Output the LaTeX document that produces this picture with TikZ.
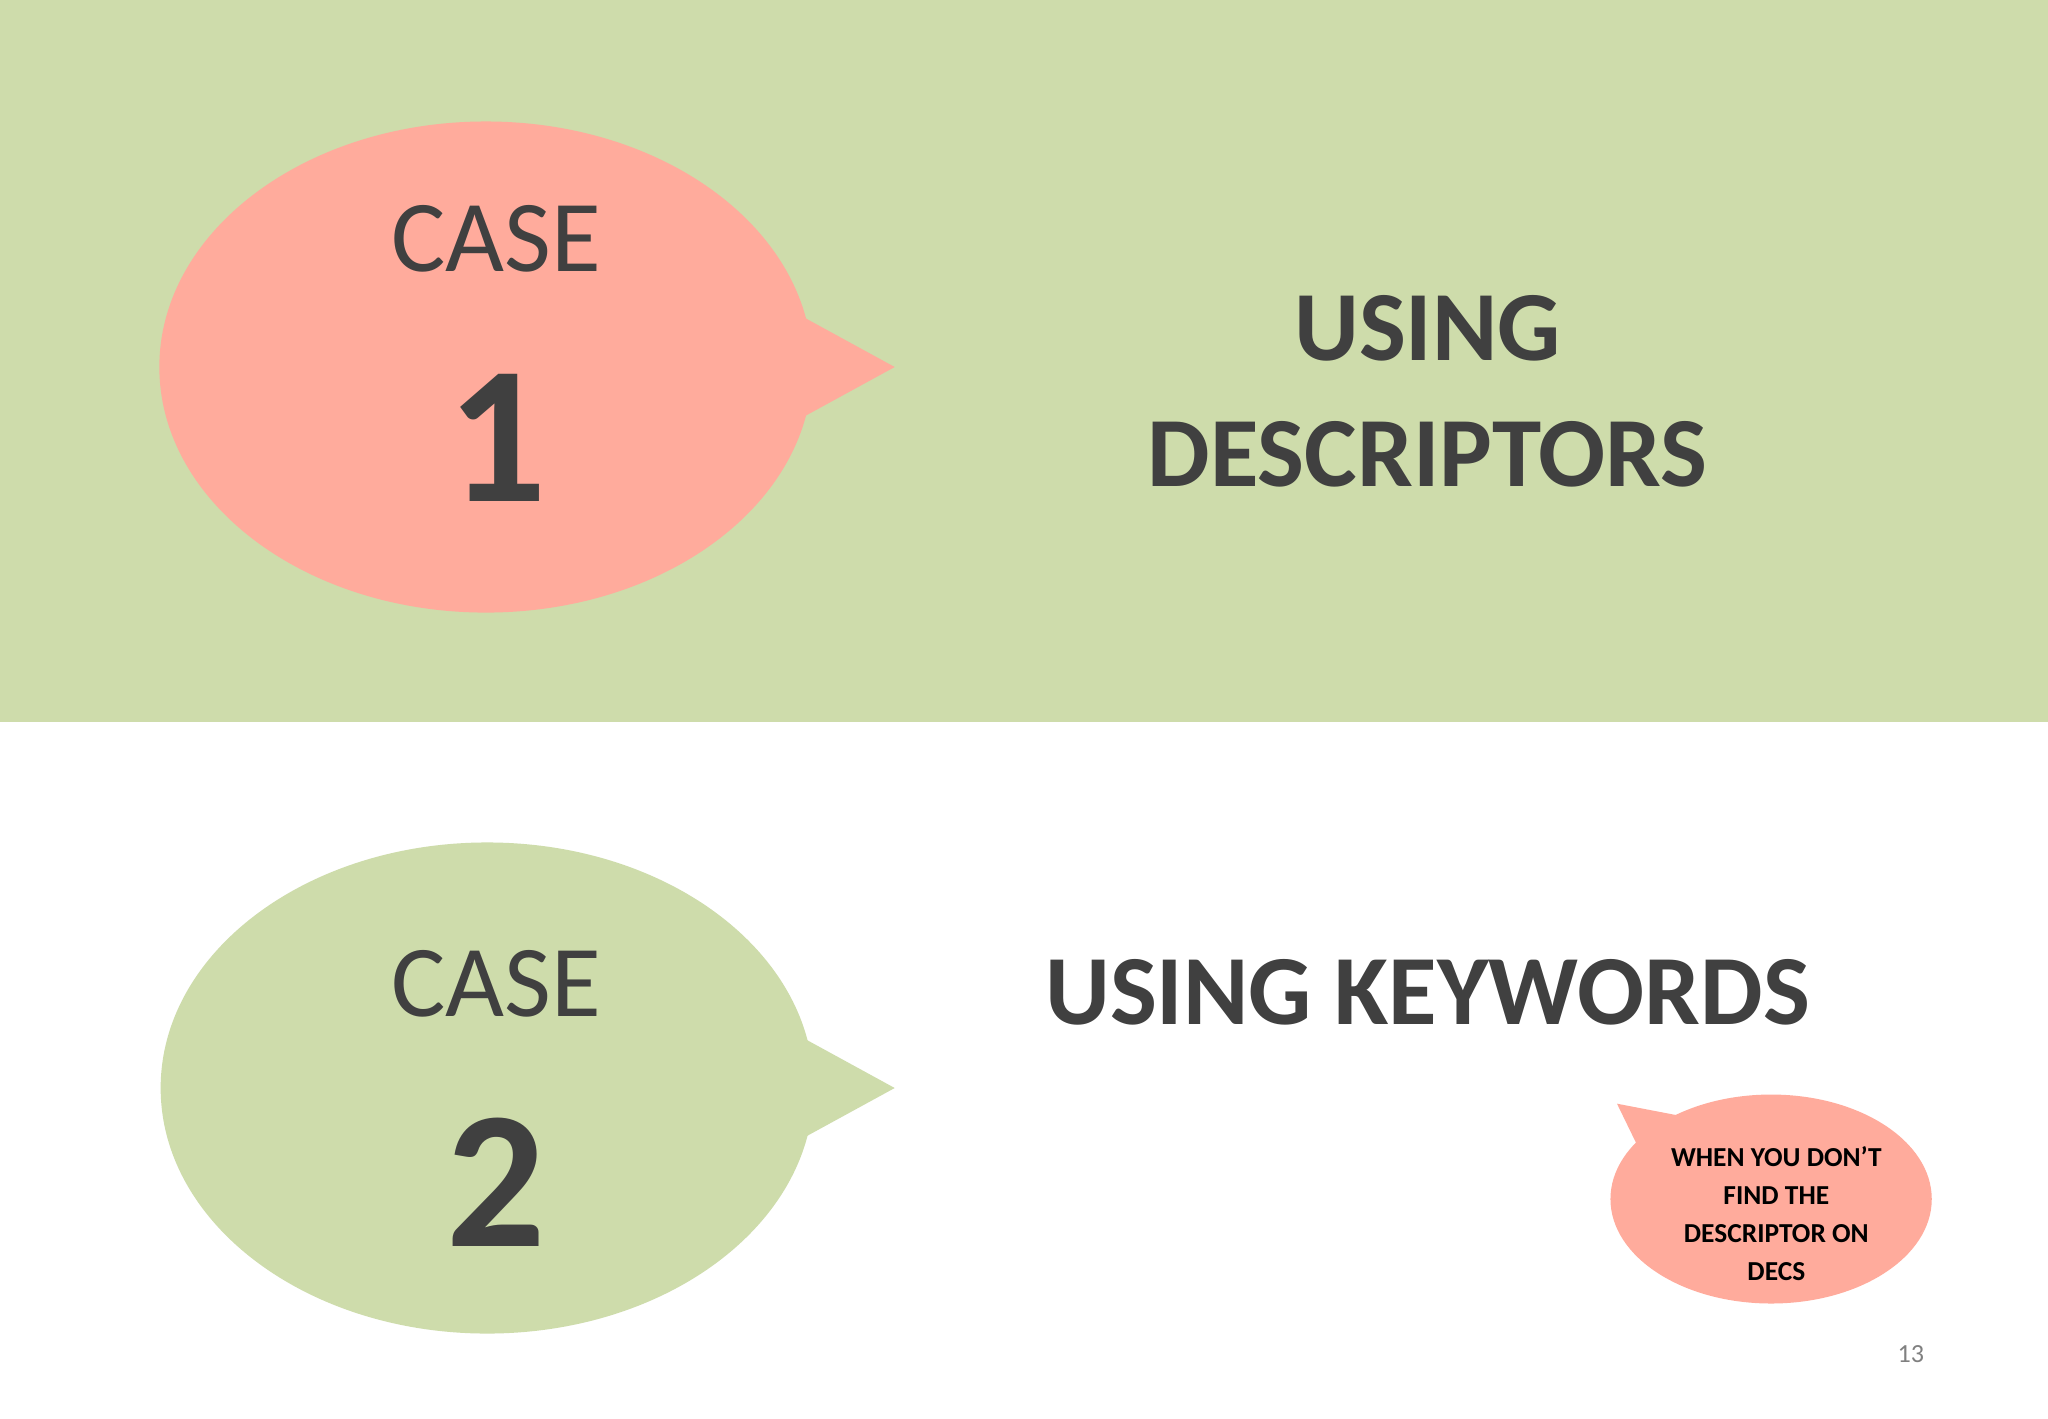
\documentclass[tikz,border=0pt]{standalone}
\usepackage{fontspec}
\setmainfont{Carlito}
\definecolor{bandgreen}{HTML}{CEDCAB}
\definecolor{salmon}{HTML}{FFAB9C}
\definecolor{ink}{HTML}{404040}
\begin{document}
\begin{tikzpicture}[x=1pt,y=-1pt,
  big/.style={font=\fontsize{76}{80}\selectfont\bfseries,text=ink,anchor=center},
  casel/.style={font=\fontsize{78}{80}\selectfont,text=ink},
  num/.style={font=\fontsize{150}{150}\selectfont\bfseries,text=ink},
  small/.style={font=\fontsize{21}{29}\selectfont\bfseries,text=black,align=center}]
\useasboundingbox (0,0) rectangle (1568,1086);
\fill[white] (0,0) rectangle (1568,1086);
\fill[bandgreen] (0,0) rectangle (1568,553);
% bubble 1
\fill[salmon] (372,281) ellipse [x radius=250,y radius=188];
\fill[salmon] (610,240) -- (685,281) -- (610,322) -- cycle;
\node[casel] (c1) at (380,183) {CASE};
\node[num] (n1) at (381,335) {1};
\node[big] (t1) at (1093,251) {USING};
\node[big] (t2) at (1093,348) {DESCRIPTORS};
% bubble 2
\fill[bandgreen] (373,833) ellipse [x radius=250,y radius=188];
\fill[bandgreen] (610,792) -- (685,833) -- (610,874) -- cycle;
\node[casel] (c2) at (380,753) {CASE};
\node[num] (n2) at (380,905) {2};
\node[big] (t3) at (1093,760) {USING KEYWORDS};
% small bubble
\fill[salmon] (1356,918) ellipse [x radius=123,y radius=80];
\fill[salmon] (1256,882) -- (1238,845) -- (1290,855) -- cycle;
\node[small] (s) at (1360,929) {WHEN YOU DON’T\\FIND THE\\DESCRIPTOR ON\\DECS};
\node[font=\fontsize{20}{22}\selectfont,text=gray] (p) at (1463,1037) {13};
\end{tikzpicture}
\end{document}
